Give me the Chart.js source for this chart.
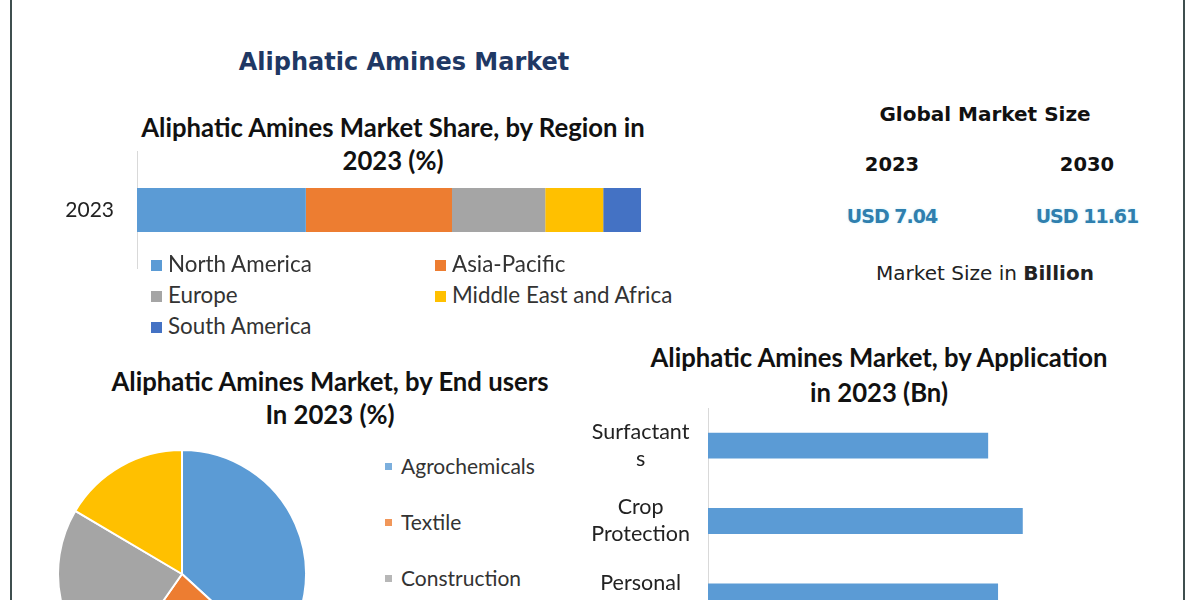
<!DOCTYPE html>
<html>
<head>
<meta charset="utf-8">
<script src="https://cdn.jsdelivr.net/npm/chart.js@4.4.1/dist/chart.umd.min.js"></script>
<style>
  html, body { margin: 0; padding: 0; }
  body { width: 1200px; height: 600px; overflow: hidden; position: relative; background: #fff;
         font-family: Lato, "Open Sans", sans-serif; color: #222; }
  .abs { position: absolute; white-space: nowrap; }
  .frame { position: absolute; top: 0; width: 2px; height: 600px; background: #3f4f4f; }
  .title { font-weight: bold; text-align: center; color: #111; }
  .big { font-family: "DejaVu Sans", "Open Sans", sans-serif; font-weight: bold; }
  .usd { font-family: "DejaVu Sans", "Open Sans", sans-serif; font-weight: bold; color: #2f7fae;
         text-shadow: 0 0 3px #cfeffa; letter-spacing: -1px; }
  .leg { position: absolute; font-size: 22.4px; line-height: 28px; color: #333; white-space: nowrap; }
  .leg i { display: inline-block; width: 11px; height: 11px; margin-right: 6px; vertical-align: 1px; }
  .pleg i { width: 7px; height: 7px; margin-right: 9px; vertical-align: 4px; opacity: 0.8; }
</style>
</head>
<body>

<div class="frame" style="left:10px"></div>
<div class="frame" style="left:1183px"></div>

<div class="abs title big" style="left:200px; width:408px; top:46px; line-height:32px; font-size:24px; color:#1f3864;">Aliphatic Amines Market</div>

<!-- region share chart -->
<div class="abs title" style="left:93px; width:600px; top:111px; line-height:33px; font-size:25.7px;">Aliphatic Amines Market Share, by Region in<br>2023 (%)</div>
<canvas id="regionChart" class="abs" width="660" height="118" style="left:0; top:151px;"></canvas>
<div id="regionLegend"></div>

<!-- global market size -->
<div class="abs title big" style="left:835px; width:300px; top:100px; line-height:28px; font-size:20px;">Global Market Size</div>
<div id="sizeBlock"></div>
<div class="abs" style="left:835px; width:300px; text-align:center; top:259px; line-height:28px; font-size:20px; font-family:'DejaVu Sans', sans-serif; color:#222;">Market Size in <b>Billion</b></div>

<!-- end users pie -->
<div class="abs title" style="left:30px; width:600px; top:365px; line-height:33px; font-size:25.7px;">Aliphatic Amines Market, by End users<br>In 2023 (%)</div>
<canvas id="endUserChart" class="abs" width="250" height="250" style="left:57px; top:449px;"></canvas>
<div id="endUserLegend"></div>

<!-- application bars -->
<div class="abs title" style="left:579px; width:600px; top:340px; line-height:35px; font-size:25.7px;">Aliphatic Amines Market, by Application<br>in 2023 (Bn)</div>
<canvas id="appChart" class="abs" width="560" height="226" style="left:560px; top:408px;"></canvas>

<script>
// Region share, 2023 (%)
const regionYears = ['2023'];
const regionNames = ['North America', 'Asia-Pacific', 'Europe', 'Middle East and Africa', 'South America'];
const regionShares = [33.5, 29.0, 18.5, 11.5, 7.5];
const regionColors = ['#5b9bd5', '#ed7d31', '#a5a5a5', '#ffc000', '#4472c4'];

// Global market size (USD Bn)
const sizeYears = ['2023', '2030'];
const sizeValues = ['USD 7.04', 'USD 11.61'];

// End users, 2023 (%)
const endUserNames = ['Agrochemicals', 'Textile', 'Construction', 'Others'];
const endUserShares = [36.8, 22.9, 23.8, 16.5];
const endUserColors = ['#5b9bd5', '#ed7d31', '#a5a5a5', '#ffc000'];

// Application, 2023 (Bn)
const appNames = [['Surfactant', 's'], ['Crop', 'Protection'], ['Personal', 'Care']];
const appValues = [1.70, 1.91, 1.76];
const appMax = 2.5;

const bodyFont = 'Lato, "Open Sans", sans-serif';

// Market size figures
const sizeBlock = document.getElementById('sizeBlock');
const sizeX = [892, 1087];
sizeYears.forEach((yr, i) => {
    const y = document.createElement('div');
    y.className = 'abs title big';
    y.style.cssText = `left:${sizeX[i] - 60}px; width:120px; top:151px; line-height:28px; font-size:19.5px;`;
    y.textContent = yr;
    sizeBlock.appendChild(y);
    const v = document.createElement('div');
    v.className = 'abs usd';
    v.style.cssText = `left:${sizeX[i] - 80}px; width:160px; text-align:center; top:203px; line-height:26px; font-size:19px;`;
    v.textContent = sizeValues[i];
    sizeBlock.appendChild(v);
});

// Region legend (two columns)
const regionLegend = document.getElementById('regionLegend');
regionNames.forEach((name, i) => {
    const item = document.createElement('div');
    item.className = 'leg';
    item.style.left = (i % 2 === 0 ? 151 : 435) + 'px';
    item.style.top = (250 + Math.floor(i / 2) * 31) + 'px';
    item.innerHTML = `<i style="background:${regionColors[i]}"></i>${name}`;
    regionLegend.appendChild(item);
});

// End user legend
const endUserLegend = document.getElementById('endUserLegend');
endUserNames.forEach((name, i) => {
    const item = document.createElement('div');
    item.className = 'leg pleg';
    item.style.left = '385px';
    item.style.top = (452 + i * 56) + 'px';
    item.style.fontSize = '21px';
    item.innerHTML = `<i style="background:${endUserColors[i]}"></i>${name}`;
    endUserLegend.appendChild(item);
});

Chart.defaults.font.family = bodyFont;
Chart.defaults.color = '#222';
Chart.defaults.animation = false;

// keep the category axis from shrinking the plot for its labels
function fixAxis(width) {
    return scale => {
        scale.width = width;
        scale.paddingTop = 0;
        scale.paddingBottom = 0;
    };
}

// Stacked region bar
new Chart(document.getElementById('regionChart'), {
    type: 'bar',
    data: {
        labels: regionYears,
        datasets: regionNames.map((name, i) => ({
            label: name,
            data: [regionShares[i]],
            backgroundColor: regionColors[i],
            borderWidth: 0,
            barPercentage: 1,
            categoryPercentage: 0.373
        }))
    },
    options: {
        indexAxis: 'y',
        responsive: false,
        devicePixelRatio: 1,
        layout: { padding: { right: 19 } },
        plugins: { legend: { display: false }, tooltip: { enabled: false } },
        scales: {
            x: { stacked: true, min: 0, max: 100, display: false },
            y: {
                stacked: true,
                grid: { display: false, drawTicks: false },
                border: { display: true, color: '#d9d9d9', width: 1 },
                ticks: { padding: 23, font: { size: 21 }, color: '#222' },
                afterFit: fixAxis(137)
            }
        }
    }
});

// End user pie
new Chart(document.getElementById('endUserChart'), {
    type: 'pie',
    data: {
        labels: endUserNames,
        datasets: [{
            data: endUserShares,
            backgroundColor: endUserColors,
            borderColor: '#ffffff',
            borderWidth: 2,
            hoverOffset: 0
        }]
    },
    options: {
        responsive: false,
        devicePixelRatio: 1,
        plugins: { legend: { display: false }, tooltip: { enabled: false } }
    }
});

// Application bars
new Chart(document.getElementById('appChart'), {
    type: 'bar',
    data: {
        labels: appNames,
        datasets: [{
            data: appValues,
            backgroundColor: '#5b9bd5',
            borderWidth: 0,
            barPercentage: 1,
            categoryPercentage: 0.344
        }]
    },
    options: {
        indexAxis: 'y',
        responsive: false,
        devicePixelRatio: 1,
        plugins: { legend: { display: false }, tooltip: { enabled: false } },
        scales: {
            x: { min: 0, max: appMax, display: false },
            y: {
                grid: { display: false, drawTicks: false },
                border: { display: true, color: '#d9d9d9', width: 1 },
                ticks: { padding: 18, crossAlign: 'center', font: { size: 21.5, lineHeight: 1.26 }, color: '#222' },
                afterFit: fixAxis(148)
            }
        }
    }
});
</script>
</body>
</html>
